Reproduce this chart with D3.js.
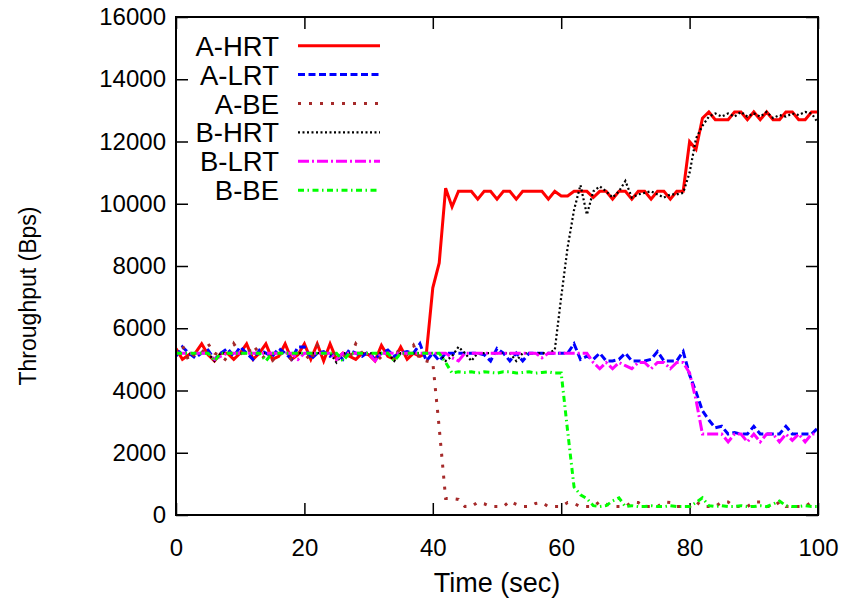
<!DOCTYPE html>
<html>
<head>
<meta charset="utf-8">
<script src="https://cdn.jsdelivr.net/npm/d3@7"></script>
<style>
  body { margin: 0; background: #fff; }
  text { font-family: "Liberation Sans", Arial, sans-serif; }
</style>
</head>
<body>
<script>
// sample times (sec)
const timeSec = [0,1,2,3,4,5,6,7,8,9,10,11,12,13,14,15,16,17,18,19,20,21,22,23,24,25,26,27,28,29,30,
  31,32,33,34,35,36,37,38,39,40,41,42,43,44,45,46,47,48,49,50,51,52,53,54,55,56,57,58,59,60,
  61,62,63,64,65,66,67,68,69,70,71,72,73,74,75,76,77,78,79,80,81,82,83,84,85,86,87,88,89,90,
  91,92,93,94,95,96,97,98,99,100];

// throughput (Bps), one value per sample
const aHRT = [5350,5000,5150,5200,5500,5150,4950,5200,5200,5000,5200,5500,5000,5200,5500,5000,5100,5500,5000,5150,
  5500,5000,5500,4950,5500,5000,5200,5100,5000,5200,5150,4950,5450,5100,5000,5400,5000,5200,5100,5200,
  7300,8100,10500,9900,10400,10400,10400,10150,10400,10400,10150,10400,10400,10150,10400,10400,10400,10400,10150,10400,
  10250,10250,10400,10400,10400,10200,10400,10400,10150,10400,10400,10150,10400,10400,10150,10400,10400,10150,10400,10400,
  12000,11750,12750,12950,12700,12700,12700,12950,12950,12700,12950,12700,12950,12700,12700,12950,12950,12700,12700,12950,12950];

const aLRT = [5100,5400,5200,5050,5200,5300,5000,5200,5350,5100,5400,5200,5000,5300,5200,5100,5350,5200,5000,5400,
  5400,5000,5200,5250,5100,5200,5000,5300,5200,5100,5250,5000,5200,5300,5100,5200,5250,5200,5500,4950,
  5200,4950,5200,5200,5200,5200,5200,5200,5150,4950,5350,5200,4950,5200,4950,5200,5200,5200,5200,5200,
  5200,5200,5500,5000,5100,5000,5200,4950,4950,5000,5200,4950,4950,4950,5000,5250,4950,4950,4950,5250,
  4500,3950,3350,3050,2800,2850,2600,2650,2600,2600,2850,2600,2600,2600,2600,2850,2600,2600,2600,2600,2800];

const aBE = [5200,5450,4950,5200,5200,5500,5200,5100,4950,5500,5200,5150,5450,5200,5000,4950,5200,5150,5000,5200,
  5200,4950,5450,5200,5100,5200,5150,5000,5500,5200,5100,5200,5000,5200,5300,5200,5150,5450,5000,4950,
  4900,2800,530,530,500,270,270,410,360,270,270,270,450,340,270,270,370,400,270,270,
  270,400,370,270,270,270,430,350,270,270,270,420,400,270,270,270,420,400,270,270,
  270,430,270,270,270,420,420,270,270,270,420,420,270,270,420,270,270,270,270,420,420];

const bHRT = [5200,5200,5200,5200,5200,5200,4950,5200,5200,5200,5200,5200,5200,5200,5200,5200,5200,5200,5200,5200,
  5200,5200,5200,5200,5200,4900,5200,5200,5200,5200,5200,5200,5200,5200,4950,5200,5200,5200,5200,5200,
  5200,5200,4950,5100,5400,5200,4950,5200,5200,5200,5200,5200,5200,4950,5200,5200,5200,5200,5200,5300,
  7000,8600,9800,10600,9650,10400,10560,10400,10200,10400,10730,10200,10300,10350,10400,10300,10200,10300,10300,10350,
  11000,12100,12500,12800,12900,12800,12900,12800,12950,12800,12900,12800,12950,12750,12850,12800,12900,12850,12950,12900,12600];

const bLRT = [5200,5200,5200,5200,5200,5200,5000,5100,5200,5200,5200,5200,5200,5200,5200,5200,5200,5200,5200,5000,
  5200,5200,5200,5200,5200,5000,5200,5200,5200,5200,5200,4950,5200,5200,5200,5200,5200,5200,5200,5200,
  5200,5200,5200,5050,4950,5200,5200,5200,5200,5200,5200,5200,5200,5200,5200,5200,5200,5050,5200,5200,
  5200,5200,5200,5200,5200,4900,4700,4900,4700,4900,4800,4700,4900,4900,4700,4900,4900,4700,4900,4900,
  4560,3700,2600,2600,2600,2600,2350,2600,2600,2350,2600,2350,2600,2600,2350,2600,2400,2600,2350,2600,2600];

const bBE = [5200,5200,5200,5200,5200,5200,4950,5200,5200,5200,5200,5200,5200,5200,4950,5200,5200,5200,5200,5200,
  5200,5200,5200,5200,5200,5200,4950,5200,5200,5200,5200,5200,5200,5200,4950,5200,5200,5200,5200,5200,
  5200,5200,4900,4560,4600,4580,4600,4560,4600,4580,4560,4600,4600,4560,4580,4600,4560,4580,4600,4560,
  4560,2700,900,650,530,300,270,300,450,550,270,300,270,270,300,270,270,300,270,270,
  270,400,550,300,270,300,270,270,300,270,270,300,270,350,450,300,270,270,300,270,270];

const seriesNames = ["A-HRT", "A-LRT", "A-BE", "B-HRT", "B-LRT", "B-BE"];
const seriesValues = [aHRT, aLRT, aBE, bHRT, bLRT, bBE];
const xTicks = [0, 20, 40, 60, 80, 100];
const yTicks = [0, 2000, 4000, 6000, 8000, 10000, 12000, 14000, 16000];

const lineStyles = [
  { color: "#ff0000", dash: null, w: 3 },
  { color: "#0000ff", dash: "7,3.5", w: 3 },
  { color: "#a52a2a", dash: "3,8", w: 3 },
  { color: "#000000", dash: "2,2.5", w: 2.2 },
  { color: "#ff00ff", dash: "11,3,2,3", w: 3 },
  { color: "#00ff00", dash: "6,3.5,1.5,3.5", w: 3 }
];

const width = 852, height = 609;
const plotLeft = 176, plotRight = 818, plotTop = 17, plotBottom = 515;
const tickFont = 24, keyFont = 27.5, titleFont = 27;

const svg = d3.select("body").append("svg")
  .attr("width", width)
  .attr("height", height);

const x = d3.scaleLinear().domain([0, 100]).range([plotLeft, plotRight]);
const y = d3.scaleLinear().domain([0, 16000]).range([plotBottom, plotTop]);

svg.append("clipPath").attr("id", "plotClip")
  .append("rect")
  .attr("x", plotLeft).attr("y", plotTop)
  .attr("width", plotRight - plotLeft).attr("height", plotBottom - plotTop);

// axes, ticks pointing inward on all four sides
function styleAxis(g) {
  g.select(".domain").remove();
  g.selectAll(".tick line").attr("stroke", "#000").attr("stroke-width", 1.5);
  g.selectAll(".tick text").attr("font-size", tickFont).attr("fill", "#000");
}

svg.append("g")
  .attr("transform", `translate(${plotLeft},0)`)
  .call(d3.axisLeft(y).tickValues(yTicks).tickSize(-12).tickPadding(10).tickFormat(d3.format("d")))
  .call(styleAxis)
  .attr("font-family", null);

svg.append("g")
  .attr("transform", `translate(${plotRight},0)`)
  .call(d3.axisRight(y).tickValues(yTicks).tickSize(-12).tickFormat(""))
  .call(styleAxis);

svg.append("g")
  .attr("transform", `translate(0,${plotBottom})`)
  .call(d3.axisBottom(x).tickValues(xTicks).tickSize(-12).tickPadding(24).tickFormat(d3.format("d")))
  .call(styleAxis)
  .attr("font-family", null);

svg.append("g")
  .attr("transform", `translate(0,${plotTop})`)
  .call(d3.axisTop(x).tickValues(xTicks).tickSize(-12).tickFormat(""))
  .call(styleAxis);

// data lines
const plot = svg.append("g").attr("clip-path", "url(#plotClip)");

seriesValues.forEach((vals, i) => {
  const st = lineStyles[i];
  const line = d3.line()
    .x((d, j) => x(timeSec[j]))
    .y(d => y(d));
  plot.append("path")
    .datum(vals)
    .attr("d", line)
    .attr("fill", "none")
    .attr("stroke", st.color)
    .attr("stroke-width", st.w)
    .attr("stroke-dasharray", st.dash)
    .attr("stroke-linejoin", "miter");
});

// frame
svg.append("rect")
  .attr("x", plotLeft).attr("y", plotTop)
  .attr("width", plotRight - plotLeft).attr("height", plotBottom - plotTop)
  .attr("fill", "none")
  .attr("stroke", "#000")
  .attr("stroke-width", 2);

// legend
const legend = svg.append("g");
seriesNames.forEach((name, i) => {
  const cy = 45.7 + i * 28.9;
  const st = lineStyles[i];
  legend.append("text")
    .attr("x", 279).attr("y", cy + 10)
    .attr("text-anchor", "end")
    .attr("font-size", keyFont)
    .text(name);
  legend.append("line")
    .attr("x1", 298).attr("x2", 380)
    .attr("y1", cy).attr("y2", cy)
    .attr("stroke", st.color)
    .attr("stroke-width", st.w)
    .attr("stroke-dasharray", st.dash);
});

// axis titles
svg.append("text")
  .attr("x", (plotLeft + plotRight) / 2).attr("y", 592)
  .attr("text-anchor", "middle")
  .attr("font-size", titleFont)
  .text("Time (sec)");

svg.append("text")
  .attr("transform", `translate(36,${(plotTop + plotBottom) / 2 + 30}) rotate(-90)`)
  .attr("text-anchor", "middle")
  .attr("font-size", 23)
  .text("Throughput (Bps)");
</script>
</body>
</html>
